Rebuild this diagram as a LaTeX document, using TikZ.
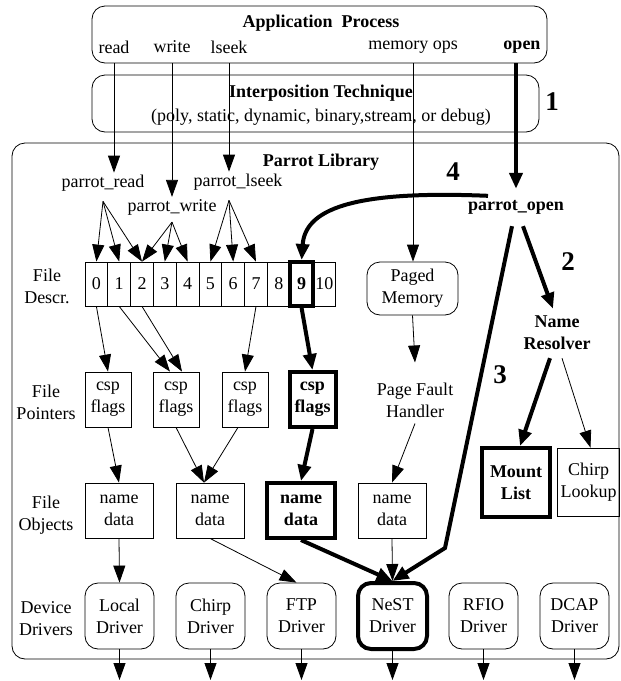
\documentclass[tikz,border=0pt]{standalone}
\usepackage{fontspec}
\setmainfont{Liberation Serif}
\usepackage{tikz}
\usetikzlibrary{arrows.meta, positioning, calc}

\begin{document}
\begin{tikzpicture}[x=1pt, y=-1pt, font=\fontsize{18}{22}\selectfont,
	every node/.style={inner sep=2pt, align=center},
	bold/.style={font=\fontsize{18}{22}\selectfont\bfseries},
	stepnum/.style={font=\fontsize{27}{27}\selectfont\bfseries},
	thinarr/.style={line width=0.8pt, -{Triangle[length=17pt, width=12pt]}},
	thickarr/.style={line width=4pt, -{Triangle[length=16pt, width=13pt]}},
	layer/.style={draw, line width=0.8pt, rounded corners=13pt, inner sep=0pt},
	fdcell/.style={draw, line width=0.8pt, minimum width=22.8pt, minimum height=44pt, inner sep=0pt},
	ptrbox/.style={draw, line width=0.8pt, minimum width=46pt, minimum height=55pt, inner sep=0pt},
	objbox/.style={draw, line width=0.8pt, minimum width=68pt, minimum height=55pt, inner sep=0pt},
	drvbox/.style={draw, line width=0.8pt, rounded corners=13pt, minimum width=69pt, minimum height=66pt, inner sep=0pt},
	hot/.style={bold, line width=4pt}]
	\useasboundingbox (0,0) rectangle (621,681);

	%% layers
	\node[layer, minimum width=455pt, minimum height=57pt] (app) at (319.5,34.5) {};
	\node[bold] (apptitle) at (321,23) {Application\ \ Process};
	\node (lblread) at (114,47) {read};
	\node (lblwrite) at (172,47) {write};
	\node (lbllseek) at (229,47) {lseek};
	\node (lblmem) at (413,47) {memory ops};
	\node[bold] (lblopen) at (522,47) {open};

	\node[layer, minimum width=447pt, minimum height=57pt] (interp) at (315.5,103.5) {};
	\node[bold] (interptitle) at (321,93) {Interposition Technique};
	\node (interpsub) at (321,117) {(poly, static, dynamic, binary,stream, or debug)};

	\node[layer, minimum width=607pt, minimum height=516pt] (lib) at (315.5,401) {};
	\node[bold] (libtitle) at (321,162) {Parrot Library};

	\node[stepnum] (num1) at (552,102) {1};
	\node[stepnum] (num2) at (568,262) {2};
	\node[stepnum] (num3) at (500,375) {3};
	\node[stepnum] (num4) at (453,172) {4};

	%% entry points
	\node (pread) at (103,183) {parrot\_read};
	\node (pwrite) at (172,207) {parrot\_write};
	\node (plseek) at (238,182) {parrot\_lseek};
	\node[bold] (popen) at (516,207) {parrot\_open};

	%% row labels
	\node (fdlbl) at (47,286.5) {File\\Descr.};
	\node (fplbl) at (46,402) {File\\Pointers};
	\node (folbl) at (46,515) {File\\Objects};
	\node (ddlbl) at (46,619) {Device\\Drivers};

	%% file descriptor table
	\foreach \i in {0,...,8,10}
		\node[fdcell] (cell\i) at ({85+22.8*(\i+0.5)},284) {\i};
	\node[fdcell, hot] (cell9) at ({85+22.8*9.5},284) {9};

	\node[layer, minimum width=91pt, minimum height=53pt] (pmem) at (412.5,288.5) {Paged\\Memory};
	\node (pgfault) at (415,400) {Page Fault\\Handler};

	%% file pointers
	\node[ptrbox] (csp1) at (108,399.5) {csp\\flags};
	\node[ptrbox] (csp2) at (176,399.5) {csp\\flags};
	\node[ptrbox] (csp3) at (245,399.5) {csp\\flags};
	\node[ptrbox, hot] (csp4) at (312.5,399.5) {csp\\flags};

	%% name resolution
	\node[bold] (nres) at (557,333) {Name\\Resolver};
	\node[draw, hot, minimum width=68pt, minimum height=69pt, inner sep=0pt] (mlist) at (516,482.5) {Mount\\List};
	\node[draw, line width=0.8pt, minimum width=62pt, minimum height=68pt, inner sep=0pt] (clook) at (588.5,482) {Chirp\\Lookup};

	%% file objects
	\node[objbox] (obj1) at (119,510.5) {name\\data};
	\node[objbox] (obj2) at (210,510.5) {name\\data};
	\node[objbox, hot] (obj3) at (301,510.5) {name\\data};
	\node[objbox] (obj4) at (392,510.5) {name\\data};

	%% device drivers
	\node[drvbox] (drvlocal) at (119.5,616) {Local\\Driver};
	\node[drvbox] (drvchirp) at (210.5,616) {Chirp\\Driver};
	\node[drvbox] (drvftp) at (301.5,616) {FTP\\Driver};
	\node[drvbox, line width=4pt] (drvnest) at (392.5,616) {NeST\\Driver};
	\node[drvbox] (drvrfio) at (483.5,616) {RFIO\\Driver};
	\node[drvbox] (drvdcap) at (574.5,616) {DCAP\\Driver};

	%% calls into the library
	\draw[thinarr] (lblread.south |- app.south) -- (lblread.south |- pread.north);
	\draw[thinarr] (lblwrite.south |- app.south) -- (pwrite.north);
	\draw[thinarr] (lbllseek.south |- app.south) -- (lbllseek.south |- plseek.north);
	\draw[thinarr] (lblmem.south |- app.south) -- (lblmem.south |- pmem.north);
	\draw[thickarr] (popen.north |- app.south) -- ([yshift=9pt]popen.north);

	%% fans into the table
	\coordinate (rdfan) at ([yshift=-8pt]pread.south);
	\coordinate (wrfan) at ([yshift=-5pt]pwrite.south);
	\coordinate (skfan) at ([xshift=-9pt,yshift=-8pt]plseek.south);
	\foreach \c in {0,1,2}
		\draw[thinarr] (rdfan) -- (cell\c.north);
	\foreach \c in {2,3,4}
		\draw[thinarr] (wrfan) -- (cell\c.north);
	\foreach \c in {5,6,7}
		\draw[thinarr] (skfan) -- (cell\c.north);

	\coordinate (fourstart) at ([xshift=-28pt,yshift=2pt]popen.north);
	\draw[thickarr] (fourstart) .. controls (350,190) and (305,210) .. (cell9.north);

	%% table to pointers to objects
	\draw[thinarr] (cell0.south) -- (csp1.north);
	\draw[thinarr] (cell1.south) -- ([xshift=-6pt]csp2.north);
	\draw[thinarr] (cell2.south) -- ([xshift=6pt]csp2.north);
	\draw[thinarr] (cell7.south) -- (csp3.north);
	\draw[thickarr] (cell9.south) -- (csp4.north);

	\draw[thinarr] (pmem.south) -- ([yshift=18pt]pgfault.north);

	\draw[thinarr] (csp1.south) -- (obj1.north);
	\draw[thinarr] (csp2.south) -- ([xshift=-6pt]obj2.north);
	\draw[thinarr] ([xshift=-7pt]csp3.south) -- ([xshift=-6pt]obj2.north);
	\draw[thickarr] (csp4.south) -- (obj3.north);
	\draw[thinarr] ([yshift=-4pt]pgfault.south) -- (obj4.north);

	%% objects to drivers
	\draw[thinarr] (obj1.south) -- (drvlocal.north);
	\draw[thinarr] (obj2.south) -- ([xshift=-5pt]drvftp.north);
	\draw[thickarr] (obj3.south) -- (drvnest.north);
	\draw[thinarr] (obj4.south) -- (drvnest.north);

	%% open path
	\coordinate (bend3) at (445,548);
	\draw[thickarr] ([xshift=-4pt,yshift=-10pt]popen.south) -- (bend3) -- (drvnest.north);
	\draw[thickarr] ([xshift=7pt,yshift=-10pt]popen.south) -- ([xshift=-4pt,yshift=5pt]nres.north);
	\draw[thickarr] ([xshift=-7pt,yshift=-6pt]nres.south) -- ([xshift=4pt]mlist.north);
	\draw[thinarr] ([xshift=5pt,yshift=-6pt]nres.south) -- ([xshift=2pt]clook.north);

	%% out to the devices
	\coordinate (outline) at (0,680);
	\foreach \d in {drvlocal,drvchirp,drvftp,drvnest,drvrfio,drvdcap}
		\draw[thinarr] (\d.south) -- (\d.south |- outline);
\end{tikzpicture}
\end{document}
